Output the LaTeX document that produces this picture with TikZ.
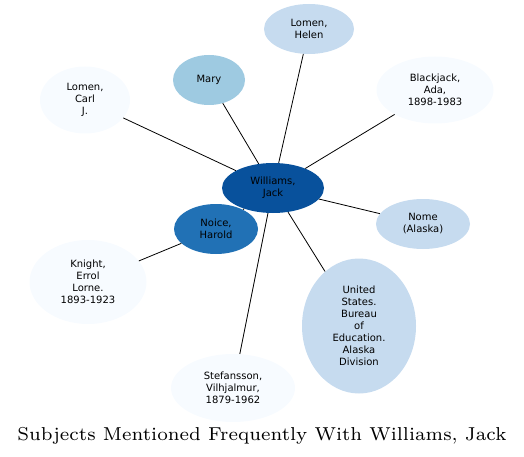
\documentclass[tikz,border=0pt]{standalone}
\usepackage{fontspec}
\newfontfamily\nodefont{DejaVu Sans}
\usetikzlibrary{shapes.geometric}
\definecolor{blueA}{HTML}{F7FBFF}
\definecolor{blueB}{HTML}{C6DBEF}
\definecolor{blueC}{HTML}{9ECAE1}
\definecolor{blueD}{HTML}{2171B5}
\definecolor{blueE}{HTML}{08519C}
\tikzset{subj/.style={ellipse, inner sep=0pt, align=center,
  font=\nodefont\fontsize{10}{12}\selectfont}}
\tikzset{link/.style={black, line width=0.8pt}}

\begin{document}
\begin{tikzpicture}[x=1pt,y=-1pt]
\useasboundingbox (0,0) rectangle (524,457);
\node[subj, fill=blueE, minimum width=102pt, minimum height=50pt] (williams) at (273,188) {Williams,\\Jack};
\node[subj, fill=blueB, minimum width=90pt, minimum height=50pt] (helen) at (309,29) {Lomen,\\Helen};
\node[subj, fill=blueC, minimum width=72pt, minimum height=50pt] (mary) at (209,80) {Mary};
\node[subj, fill=blueA, minimum width=90pt, minimum height=67pt] (carl) at (85,100) {Lomen,\\Carl\\J.};
\node[subj, fill=blueA, minimum width=117pt, minimum height=67pt] (ada) at (435,90) {Blackjack,\\Ada,\\1898-1983};
\node[subj, fill=blueB, minimum width=94pt, minimum height=50pt] (nome) at (423,224) {Nome\\(Alaska)};
\node[subj, fill=blueD, minimum width=84pt, minimum height=50pt] (noice) at (216,229) {Noice,\\Harold};
\node[subj, fill=blueA, minimum width=117pt, minimum height=84pt] (knight) at (88,282) {Knight,\\Errol\\Lorne.\\1893-1923};
\node[subj, fill=blueB, minimum width=114pt, minimum height=135pt] (bureau) at (359,326) {United\\States.\\Bureau\\of\\Education.\\Alaska\\Division};
\node[subj, fill=blueA, minimum width=124pt, minimum height=68pt] (stef) at (233,388) {Stefansson,\\Vilhjalmur,\\1879-1962};
% edges
\foreach \n in {helen,mary,carl,ada,nome,noice,bureau,stef} {
\draw[link] (williams) -- (\n);
}
\draw[link] (noice) -- (knight);
\node[font=\fontsize{7}{8}\selectfont, scale=2.67] (title) at (262,436) {Subjects Mentioned Frequently With Williams, Jack};
\end{tikzpicture}
\end{document}
